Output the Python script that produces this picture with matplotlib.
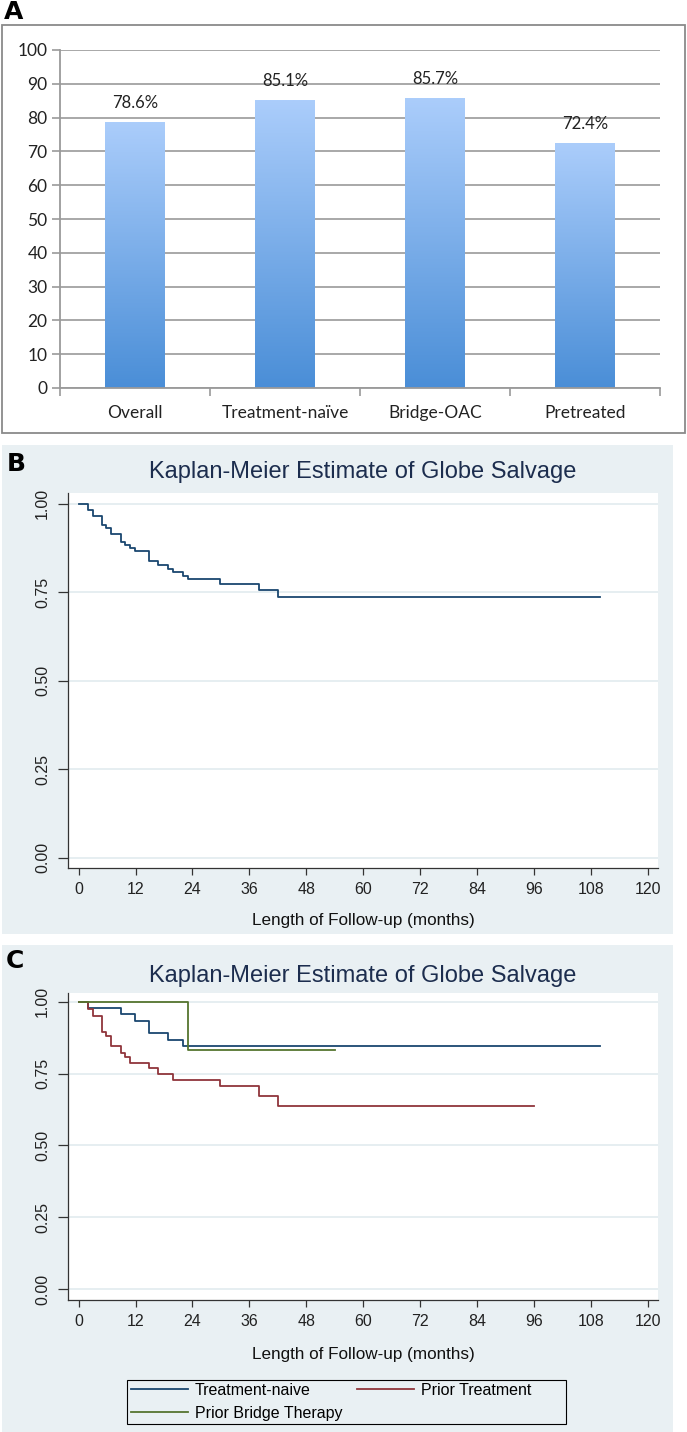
import matplotlib

matplotlib.use("Agg")
import matplotlib.pyplot as plt
import numpy as np
from matplotlib.colors import LinearSegmentedColormap
from matplotlib.lines import Line2D
from matplotlib.patches import Rectangle

# panel A: globe salvage rate by group (%)
groups = ["Overall", "Treatment-naïve", "Bridge-OAC", "Pretreated"]
salvage_pct = [78.6, 85.1, 85.7, 72.4]

# panel B: overall Kaplan-Meier estimate (months, survival)
overall_t = [0, 1.9, 3.0, 5.0, 5.8, 6.8, 8.9, 9.8, 10.9, 11.9, 14.9, 16.8, 18.9, 19.9, 21.9, 23.0, 29.9, 38.0, 42.0, 110.0]
overall_s = [1.0, 0.983, 0.966, 0.940, 0.930, 0.913, 0.892, 0.884, 0.875, 0.865, 0.839, 0.828, 0.816, 0.807,
             0.797, 0.788, 0.774, 0.757, 0.737, 0.737]

# panel C: by prior treatment
naive_t = [0, 1.9, 8.9, 11.9, 14.9, 18.9, 21.9, 110.0]
naive_s = [1.0, 0.978, 0.957, 0.934, 0.890, 0.866, 0.846, 0.846]
prior_t = [0, 1.9, 3.0, 5.0, 5.8, 6.8, 8.9, 9.8, 10.9, 14.9, 16.8, 19.9, 29.9, 38.0, 42.0, 96.0]
prior_s = [1.0, 0.974, 0.949, 0.894, 0.879, 0.845, 0.823, 0.806, 0.786, 0.769, 0.750, 0.729, 0.706, 0.671,
           0.636, 0.636]
bridge_t = [0, 23.0, 54.0]
bridge_s = [1.0, 0.833, 0.833]

km_xticks = list(range(0, 121, 12))
km_yticks = [0.0, 0.25, 0.5, 0.75, 1.0]
km_title = "Kaplan-Meier Estimate of Globe Salvage"
km_xlabel = "Length of Follow-up (months)"

W, H = 687, 1432
NAVY, MAROON, GREEN = "#1a476f", "#90353b", "#55752f"
PANEL_BG = "#e9f0f3"
GRID_KM = "#e6eef1"


def fx(px):
    return px / W


def fy(py):
    return 1 - py / H


def box(x0, y0, x1, y1):
    return [fx(x0), fy(y1), fx(x1) - fx(x0), fy(y0) - fy(y1)]


fig = plt.figure(figsize=(W / 100, H / 100), dpi=100)

# ---- panel A
fig.add_artist(Rectangle((fx(2), fy(433)), fx(685) - fx(2), fy(25) - fy(433), transform=fig.transFigure,
                         fill=False, ec="#8a8a8a", lw=1.3, zorder=-5))
axA = fig.add_axes(box(60, 50, 660, 388))
x = np.arange(len(groups))
bars = axA.bar(x, salvage_pct, width=0.4, color="none", zorder=2)
cmap = LinearSegmentedColormap.from_list("barfade", ["#4a8ed7", "#abcdfb"])
grad = np.linspace(0, 1, 256).reshape(-1, 1)
for b in bars:
    axA.imshow(grad, extent=[b.get_x(), b.get_x() + b.get_width(), 0, b.get_height()], origin="lower",
               aspect="auto", cmap=cmap, zorder=2)
for i, v in enumerate(salvage_pct):
    axA.annotate(f"{v}%", (i, v), xytext=(0, 14), textcoords="offset points", ha="center", va="center",
                 fontsize=12, family="Lato", color="#222222")
axA.set_xlim(-0.5, len(groups) - 0.5)
axA.set_ylim(0, 100)
axA.set_yticks(range(0, 101, 10))
axA.set_xticks(x)
axA.set_xticklabels(groups)
axA.set_xticks(np.arange(-0.5, len(groups)), minor=True)
axA.tick_params(axis="x", which="major", length=0, pad=12)
axA.tick_params(axis="x", which="minor", length=6, width=1.2, color="#9a9a9a", direction="out")
axA.tick_params(axis="y", length=6, width=1.2, color="#9a9a9a", pad=3)
for lab in axA.get_xticklabels() + axA.get_yticklabels():
    lab.set_fontsize(12.5)
    lab.set_family("Lato")
    lab.set_color("#222222")
axA.grid(axis="y", color="#a8a8a8", lw=1.4)
axA.set_axisbelow(True)
for side in ["top", "right"]:
    axA.spines[side].set_visible(False)
for side in ["left", "bottom"]:
    axA.spines[side].set_color("#9a9a9a")
    axA.spines[side].set_linewidth(1.3)


def km_panel(y0, y1, plot_bottom, ymin, series, title_y, xlabel_y):
    fig.add_artist(Rectangle((fx(2), fy(y1)), fx(673) - fx(2), fy(y0) - fy(y1), transform=fig.transFigure,
                             fc=PANEL_BG, ec="none", zorder=-10))
    ax = fig.add_axes(box(68, y0 + 48, 658, plot_bottom))
    for t, s, c in series:
        ax.step(t, s, where="post", color=c, lw=1.3)
    ax.set_xlim(-2.26, 122.2)
    ax.set_ylim(ymin, 1.03)
    ax.set_xticks(km_xticks)
    ax.set_yticks(km_yticks)
    ax.set_yticklabels([f"{v:.2f}" for v in km_yticks], rotation=90, va="center")
    ax.tick_params(axis="x", length=5, width=0.9, color="#333333", pad=5, labelsize=11.5)
    ax.tick_params(axis="y", length=7, width=0.9, color="#333333", pad=6, labelsize=11.5)
    for lab in ax.get_xticklabels() + ax.get_yticklabels():
        lab.set_family("Liberation Sans")
        lab.set_color("#222222")
    ax.grid(axis="y", color=GRID_KM, lw=1.4)
    ax.set_axisbelow(True)
    for side in ["top", "right"]:
        ax.spines[side].set_visible(False)
    for side in ["left", "bottom"]:
        ax.spines[side].set_color("#333333")
        ax.spines[side].set_linewidth(0.9)
    fig.text(fx(363), fy(title_y), km_title, ha="center", va="center", fontsize=17,
             family="Liberation Sans", color="#1c2d4e")
    fig.text(fx(363), fy(xlabel_y), km_xlabel, ha="center", va="center", fontsize=12.3,
             family="Liberation Sans", color="#111111")
    return ax


# ---- panel B
km_panel(445, 934, 868, -0.029, [(overall_t, overall_s, NAVY)], 472, 920)

# ---- panel C
km_panel(945, 1432, 1300, -0.037,
         [(naive_t, naive_s, NAVY), (prior_t, prior_s, MAROON), (bridge_t, bridge_s, GREEN)], 976, 1355)
handles = [Line2D([], [], color=NAVY, lw=1.3, label="Treatment-naive"),
           Line2D([], [], color=GREEN, lw=1.3, label="Prior Bridge Therapy"),
           Line2D([], [], color=MAROON, lw=1.3, label="Prior Treatment")]
fig.legend(handles=handles, ncol=2, loc="upper left", bbox_to_anchor=(fx(127), fy(1379)),
           frameon=False, borderpad=0.25, labelspacing=0.5, handlelength=3.6, handletextpad=0.4,
           columnspacing=0.9, borderaxespad=0, prop={"family": "Liberation Sans", "size": 11.5})
fig.add_artist(Rectangle((fx(127), fy(1424)), fx(566) - fx(127), fy(1380) - fy(1424),
                         transform=fig.transFigure, fill=False, ec="black", lw=0.8))

# panel letters
for letter, px, py in [("A", 14, 12), ("B", 16, 464), ("C", 15, 961)]:
    fig.text(fx(px), fy(py), letter, ha="center", va="center", fontsize=18, fontweight="bold",
             family=["Liberation Sans Narrow", "DejaVu Sans"], color="black")

fig.savefig("out.png", dpi=100)
